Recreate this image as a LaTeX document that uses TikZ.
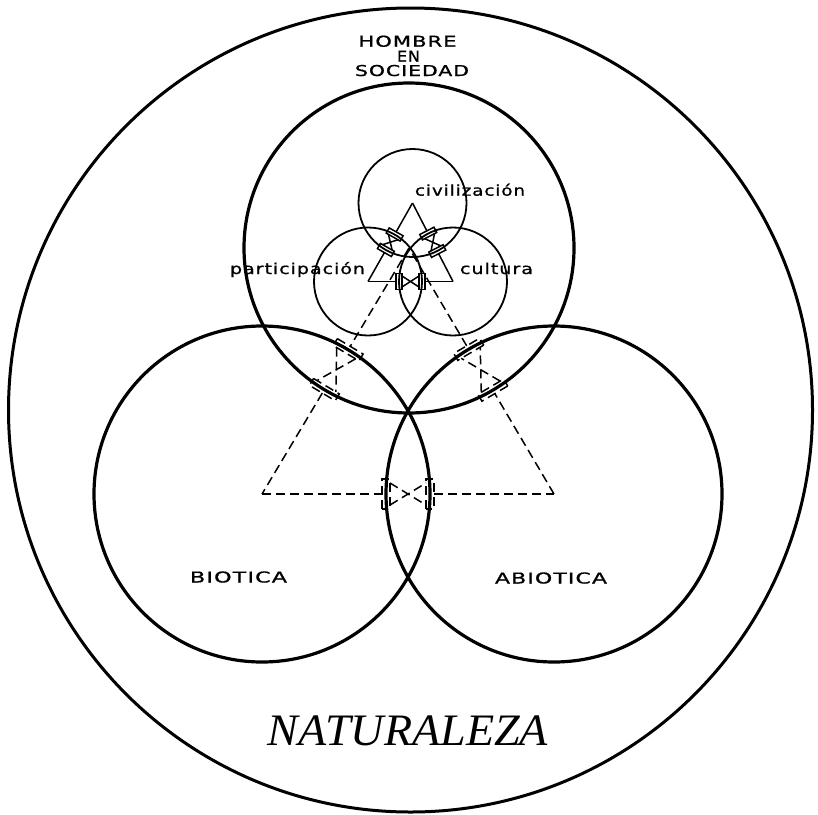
\documentclass[tikz,border=0pt]{standalone}
\usepackage{fontspec}
\usepackage{graphicx}
\usetikzlibrary{calc}
\newfontfamily\lblfont[LetterSpace=5, FakeBold=0.8]{DejaVu Sans}
\newfontfamily\natfont{Liberation Serif}
\newcommand\wlbl[2]{\resizebox{#1pt}{\height}{\fontsize{15}{17}\lblfont #2}}
\makeatletter
\newcommand\gatesym[8]{%
  \pgfmathanglebetweenpoints{\pgfpointanchor{#1}{center}}{\pgfpointanchor{#2}{center}}%
  \let\gang\pgfmathresult
  \pgfpointdiff{\pgfpointanchor{#1}{center}}{\pgfpointanchor{#2}{center}}%
  \pgfmathveclen{\pgf@x}{\pgf@y}%
  \let\glen\pgfmathresult
  \pgfmathsetmacro\gq{\glen-#4}%
  \pgfmathsetmacro\gp{#3}%
  \begin{scope}[shift={(#1)}, rotate=\gang, x=1pt, y=1pt]
    \draw[#8] (0,0) -- (\gq-#6,0);
    \draw[#8] (\gq-#6,-#5) rectangle (\gq+#6,#5);
    \draw[#8] (\gp-#6,-#5) rectangle (\gp+#6,#5);
    \draw[#8] (\gq+#6,#7) -- (\gp-#6,-#7) (\gq+#6,-#7) -- (\gp-#6,#7);
    \draw[#8] (\gp+#6,0) -- (\glen,0);
  \end{scope}
}
\makeatother
\tikzset{
  outerline/.style={line width=3pt},
  bigline/.style={line width=3.2pt},
  smallline/.style={line width=1.8pt},
  triline/.style={line width=1.5pt},
  dashline/.style={line width=1.5pt, dash pattern=on 9pt off 5pt},
  lbl/.style={inner sep=0pt, anchor=base},
}
\begin{document}
\begin{tikzpicture}[x=1pt, y=-1pt]
\useasboundingbox (0,0) rectangle (818,814);
\fill[white] (0,0) rectangle (818,814);
% centres
\coordinate (O) at (410.5,410);
\coordinate (T) at (409,248);
\coordinate (L) at (262,494);
\coordinate (R) at (554,494);
\coordinate (c) at (412.5,203);
\coordinate (p) at (368,281.5);
\coordinate (u) at (453,281.5);
% circles
\draw[outerline] (O) circle[radius=402pt];
\draw[bigline] (T) circle[radius=165pt];
\draw[bigline] (L) circle[radius=168pt];
\draw[bigline] (R) circle[radius=168pt];
\draw[smallline] (c) circle[radius=54pt];
\draw[smallline] (p) circle[radius=54pt];
\draw[smallline] (u) circle[radius=54pt];
% dashed big triangle with gates
\gatesym{T}{L}{165}{168}{15}{4}{11}{dashline}
\gatesym{L}{R}{168}{168}{15}{4}{11}{dashline}
\gatesym{R}{T}{168}{165}{15}{4}{11}{dashline}
% solid small triangle with gates
\gatesym{c}{p}{54}{54}{8}{3}{5.5}{triline}
\gatesym{p}{u}{54}{54}{8}{3}{5.5}{triline}
\gatesym{u}{c}{54}{54}{8}{3}{5.5}{triline}
% labels
\node[lbl] (hombre) at (407.5,46.7) {\wlbl{98}{HOMBRE}};
\node[lbl] (en) at (408.5,61.7) {\wlbl{23}{EN}};
\node[lbl] (soc) at (412,76) {\wlbl{114}{SOCIEDAD}};
\node[lbl] (civ) at (470,195.7) {\wlbl{110}{civilización}};
\node[lbl] (par) at (297.5,274) {\wlbl{135}{participación}};
\node[lbl] (cul) at (496.5,274) {\wlbl{73}{cultura}};
\node[lbl] (bio) at (238.5,582.5) {\wlbl{97}{BIOTICA}};
\node[lbl] (abio) at (551,583.5) {\wlbl{112}{ABIOTICA}};
\node[lbl] (nat) at (408,745) {\resizebox{280pt}{\height}{\fontsize{45}{50}\natfont\itshape NATURALEZA}};
\end{tikzpicture}
\end{document}
